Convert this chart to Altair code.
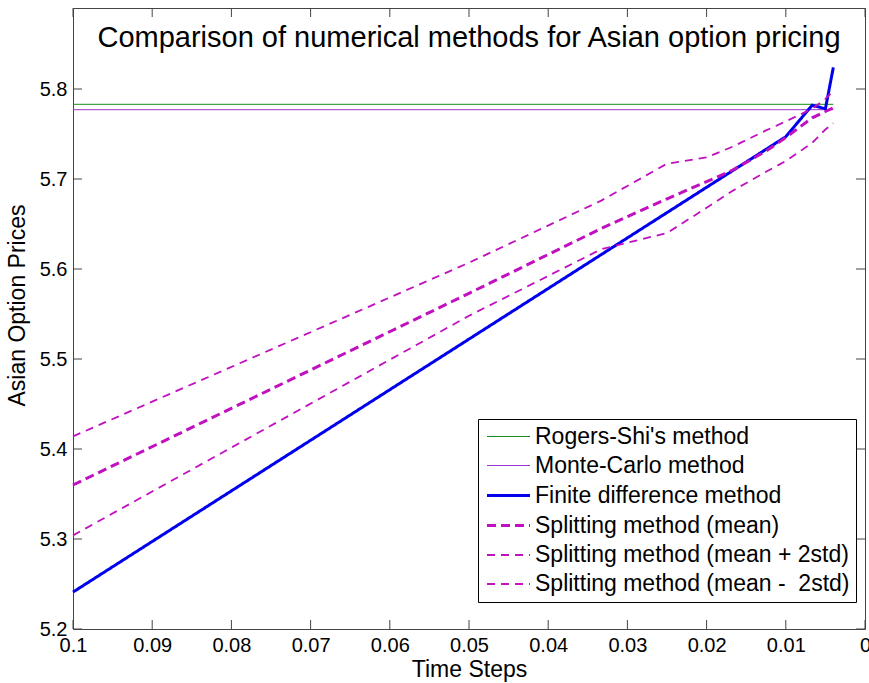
import altair as alt
import pandas as pd

# ---- data ----
methods = [
    "Rogers-Shi's method",
    "Monte-Carlo method",
    "Finite difference method",
    "Splitting method (mean)",
    "Splitting method (mean + 2std)",
    "Splitting method (mean - \u00a02std)",
]
colors = ["#1a8a1a", "#9933cc", "#0000ee", "#c010c0", "#c010c0", "#c010c0"]
dashes = [[1, 0], [1, 0], [1, 0], [9, 5], [8, 6], [8, 6]]
widths = [1, 1, 3, 3, 1.8, 1.8]

ref_t = [0.1, 0.004]
rogers_shi = [5.783, 5.783]
monte_carlo = [5.777, 5.777]

fd_t = [0.1, 0.01, 0.00667, 0.005, 0.004]
fd_price = [5.241, 5.747, 5.782, 5.778, 5.824]

split_t = [0.1, 0.05, 0.0333, 0.025, 0.02, 0.0167, 0.0125, 0.01, 0.00667, 0.005, 0.004]
split_mean = [5.360, 5.573, 5.645, 5.678, 5.697, 5.710, 5.731, 5.746, 5.768, 5.775, 5.779]
split_upper = [5.414, 5.607, 5.676, 5.717, 5.724, 5.736, 5.754, 5.764, 5.778, 5.789, 5.798]
split_lower = [5.304, 5.548, 5.622, 5.640, 5.668, 5.687, 5.708, 5.720, 5.740, 5.755, 5.762]

x_ticks = [0.0, 0.01, 0.02, 0.03, 0.04, 0.05, 0.06, 0.07, 0.08, 0.09, 0.1]
y_ticks = [5.2, 5.3, 5.4, 5.5, 5.6, 5.7, 5.8]

series = [
    (methods[0], ref_t, rogers_shi),
    (methods[1], ref_t, monte_carlo),
    (methods[2], fd_t, fd_price),
    (methods[3], split_t, split_mean),
    (methods[4], split_t, split_upper),
    (methods[5], split_t, split_lower),
]
rows = []
for name, ts, vs in series:
    for t, v in zip(ts, vs):
        rows.append({"method": name, "t": t, "price": v})
df = pd.DataFrame(rows)

W, H = 792, 621
x_scale = alt.Scale(domain=[0, 0.1], reverse=True, nice=False, zero=False)
y_scale = alt.Scale(domain=[5.2, 5.89], nice=False, zero=False)

lines = alt.Chart(df).mark_line(strokeCap="butt", strokeJoin="miter").encode(
    x=alt.X("t:Q", scale=x_scale, title="Time Steps",
            axis=alt.Axis(values=x_ticks, format=".2~f", ticks=False, domain=False,
                          grid=False, labelPadding=6, titlePadding=3, labelFlush=False)),
    y=alt.Y("price:Q", scale=y_scale, title="Asian Option Prices",
            axis=alt.Axis(values=y_ticks, format=".1f", ticks=False, domain=False,
                          grid=False, labelPadding=6, titlePadding=10, labelFlush=False,
                          titleY=297)),
    color=alt.Color("method:N", sort=methods,
                    scale=alt.Scale(type="ordinal", domain=methods, range=colors),
                    legend=alt.Legend(title=None)),
    strokeDash=alt.StrokeDash("method:N", sort=methods,
                              scale=alt.Scale(type="ordinal", domain=methods, range=dashes),
                              legend=alt.Legend(title=None)),
    strokeWidth=alt.StrokeWidth("method:N", sort=methods,
                                scale=alt.Scale(type="ordinal", domain=methods, range=widths),
                                legend=alt.Legend(title=None)),
    order=alt.Order("t:Q", sort="descending"),
)

xt = pd.DataFrame({"t": x_ticks})
yt = pd.DataFrame({"price": y_ticks})
tick_color = "#444444"
bottom_ticks = alt.Chart(xt).mark_rule(color=tick_color, strokeWidth=1).encode(
    x=alt.X("t:Q", scale=x_scale), y=alt.value(H), y2=alt.value(H - 9))
top_ticks = alt.Chart(xt).mark_rule(color=tick_color, strokeWidth=1).encode(
    x=alt.X("t:Q", scale=x_scale), y=alt.value(0), y2=alt.value(9))
left_ticks = alt.Chart(yt).mark_rule(color=tick_color, strokeWidth=1).encode(
    y=alt.Y("price:Q", scale=y_scale), x=alt.value(0), x2=alt.value(9))
right_ticks = alt.Chart(yt).mark_rule(color=tick_color, strokeWidth=1).encode(
    y=alt.Y("price:Q", scale=y_scale), x=alt.value(W), x2=alt.value(W - 9))

chart = alt.layer(lines, bottom_ticks, top_ticks, left_ticks, right_ticks).properties(
    width=W, height=H,
    autosize=alt.AutoSizeParams(type="none"),
    padding={"left": 73, "top": 8, "right": 4, "bottom": 54},
    title=alt.Title("Comparison of numerical methods for Asian option pricing",
                    fontSize=29, fontWeight="normal", font="Liberation Sans",
                    color="black", anchor="middle", baseline="bottom", offset=-44,
                    dy=30),
).configure_view(
    stroke=tick_color, strokeWidth=1
).configure_axis(
    labelFont="Liberation Sans", titleFont="Liberation Sans",
    labelFontSize=20, titleFontSize=23, labelColor="black", titleColor="black",
    titleFontWeight="normal",
).configure_legend(
    orient="none", legendX=405, legendY=411,
    labelFont="Liberation Sans", labelFontSize=23, labelColor="black",
    labelLimit=400, symbolType="M-2,0H2", symbolSize=462, symbolOffset=12,
    labelOffset=14, strokeColor="black", fillColor="white", padding=6,
    rowPadding=5, cornerRadius=0, symbolOpacity=1, symbolFillColor="transparent",
)

chart.save("out.html", embed_options={"renderer": "svg", "actions": False})
